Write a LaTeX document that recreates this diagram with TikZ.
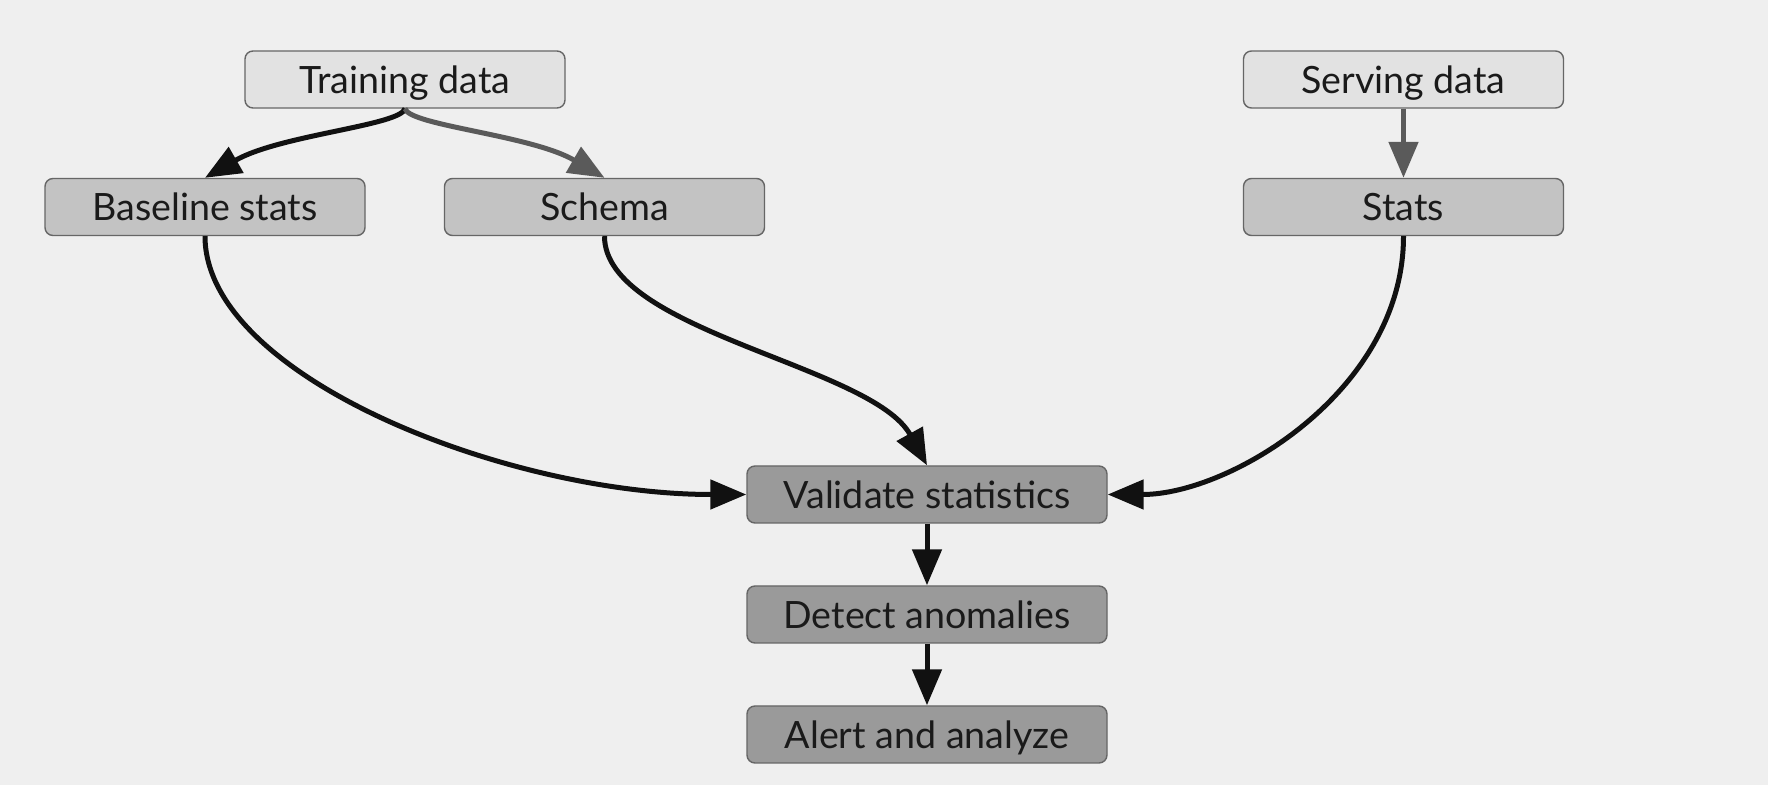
\documentclass[tikz,border=0pt]{standalone}
\usepackage{fontspec}
\setmainfont{Lato}
\usetikzlibrary{arrows.meta}
\definecolor{bg}{HTML}{EFEFEF}
\definecolor{boxline}{HTML}{666666}
\definecolor{c1}{HTML}{E2E2E2}
\definecolor{c2}{HTML}{C3C3C3}
\definecolor{c3}{HTML}{9A9A9A}
\definecolor{txt}{HTML}{1A1A1A}
\definecolor{darr}{HTML}{111111}
\definecolor{garr}{HTML}{5A5A5A}
\begin{document}
\begin{tikzpicture}[x=0.5pt,y=-0.5pt,
  box/.style={draw=boxline, line width=0.7pt, rounded corners=4pt,
    minimum width=160pt, minimum height=28.5pt, inner sep=0pt,
    text height=17.8pt, text depth=4pt,
    font=\fontsize{18.8}{22}\selectfont, text=txt},
  lightbox/.style={box, fill=c1},
  midbox/.style={box, fill=c2},
  darkbox/.style={box, fill=c3, minimum width=180pt},
  arr/.style={line width=2.5pt, draw=darr, -{Triangle[length=18pt,width=14.5pt]}},
  garrow/.style={arr, draw=garr, -{Triangle[length=18pt,width=14.5pt,fill=garr]}}]
\fill[bg] (0,0) rectangle (1768,785);
\useasboundingbox (0,0) rectangle (1768,785);

\node[lightbox] (tr) at (405,79.5) {Training data};
\node[midbox] (bs) at (205,207) {Baseline stats};
\node[midbox] (sc) at (604.5,207) {Schema};
\node[lightbox] (sv) at (1403.5,79.5) {Serving data};
\node[midbox] (st) at (1403.5,207) {Stats};
\node[darkbox] (va) at (927,494.5) {Validate statistics};
\node[darkbox] (de) at (927,614.5) {Detect anomalies};
\node[darkbox] (al) at (927,734.5) {Alert and analyze};

\draw[arr] (tr.south) .. controls +(-5,17) and +(75,-43) .. (bs.north);
\draw[garrow] (tr.south) .. controls +(5,17) and +(-74,-43) .. (sc.north);
\draw[garrow] (sv) -- (st);
\draw[arr] (bs.south) .. controls +(0,140) and +(-240,0) .. (va.west);
\draw[arr] (sc.south) .. controls +(0,95) and +(-55,-100) .. (va.north);
\draw[arr] (st.south) .. controls +(0,154) and +(123,0) .. (va.east);
\draw[arr] (va) -- (de);
\draw[arr] (de) -- (al);
\end{tikzpicture}
\end{document}
